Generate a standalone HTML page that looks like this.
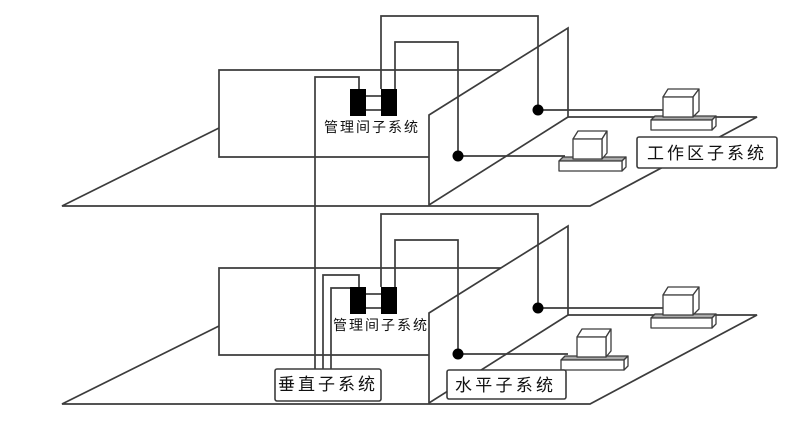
<!DOCTYPE html>
<html>
<head>
<meta charset="utf-8">
<style>
html,body{margin:0;padding:0;background:#fff;}
svg{display:block;}
text{font-family:"Liberation Sans","Noto Sans CJK SC","WenQuanYi Zen Hei",sans-serif;fill:#111;}
</style>
</head>
<body>
<svg width="786" height="422" viewBox="0 0 786 422" xmlns="http://www.w3.org/2000/svg">
<rect width="786" height="422" fill="#fff"/>
<g fill="none" stroke="#3c3c3c" stroke-width="1.7" stroke-linejoin="miter">
  <!-- ===== TOP FLOOR ===== -->
  <polyline points="219,128 62,206 590,206 757,117 568,117"/>
  <polyline points="501,70 219,70 219,157 429,157"/>
  <polygon points="429,115 568,28 568,117 429,205"/>
  <polyline points="381,89 381,16 538,16 538,110 663,110"/>
  <polyline points="395,89 395,42 458,42 458,156 565,156"/>
  <polyline points="359,89 359,77 315,77 315,370"/>
  <line x1="366" y1="96" x2="381" y2="96"/>
  <line x1="366" y1="110" x2="381" y2="110"/>

  <!-- ===== BOTTOM FLOOR ===== -->
  <polyline points="219,326 62,404 590,404 757,315 568,315"/>
  <polyline points="501,268 219,268 219,355 429,355"/>
  <polygon points="429,313 568,226 568,315 429,403"/>
  <polyline points="381,287 381,214 538,214 538,308 663,308"/>
  <polyline points="395,287 395,240 458,240 458,354 568,354"/>
  <polyline points="359,287 359,275 323,275 323,370"/>
  <polyline points="350,288 331,288 331,370"/>
  <line x1="366" y1="294" x2="381" y2="294"/>
  <line x1="366" y1="308" x2="381" y2="308"/>
</g>

<g fill="#000">
  <rect x="350" y="89" width="16" height="27"/>
  <rect x="381" y="89" width="16" height="27"/>
  <rect x="350" y="287" width="16" height="27"/>
  <rect x="381" y="287" width="16" height="27"/>
  <circle cx="538" cy="110" r="5.5"/>
  <circle cx="458" cy="156" r="5.5"/>
  <circle cx="538" cy="308" r="5.5"/>
  <circle cx="458" cy="354" r="5.5"/>
</g>

<!-- computers -->
<g stroke="#3c3c3c" stroke-width="1.3" stroke-linejoin="round">
  <!-- top floor, right computer -->
  <polygon points="651,120 655,116 716,116 712,120" fill="#aaa"/>
  <polygon points="712,120 716,116 716,126 712,130" fill="#fff"/>
  <rect x="651" y="120" width="61" height="10" fill="#fff"/>
  <polygon points="663,97 668,89 699,89 693,97" fill="#fff"/>
  <polygon points="693,97 699,89 699,111 693,117" fill="#fff"/>
  <rect x="663" y="97" width="30" height="20" fill="#fff"/>
  <!-- top floor, left computer -->
  <polygon points="559,161 563,157 626,157 622,161" fill="#aaa"/>
  <polygon points="622,161 626,157 626,167 622,171" fill="#fff"/>
  <rect x="559" y="161" width="63" height="10" fill="#fff"/>
  <polygon points="573,139 578,131 607,131 602,139" fill="#fff"/>
  <polygon points="602,139 607,131 607,153 602,159" fill="#fff"/>
  <rect x="573" y="139" width="29" height="20" fill="#fff"/>

  <!-- bottom floor, right computer -->
  <polygon points="651,318 655,314 716,314 712,318" fill="#aaa"/>
  <polygon points="712,318 716,314 716,324 712,328" fill="#fff"/>
  <rect x="651" y="318" width="61" height="10" fill="#fff"/>
  <polygon points="663,295 668,287 699,287 693,295" fill="#fff"/>
  <polygon points="693,295 699,287 699,309 693,315" fill="#fff"/>
  <rect x="663" y="295" width="30" height="20" fill="#fff"/>
  <!-- bottom floor, left computer -->
  <polygon points="561,360 565,356 628,356 624,360" fill="#aaa"/>
  <polygon points="624,360 628,356 628,366 624,370" fill="#fff"/>
  <rect x="561" y="360" width="63" height="10" fill="#fff"/>
  <polygon points="577,337 582,329 611,329 606,337" fill="#fff"/>
  <polygon points="606,337 611,329 611,351 606,357" fill="#fff"/>
  <rect x="577" y="337" width="29" height="20" fill="#fff"/>
</g>

<g fill="#fff" stroke="#3c3c3c" stroke-width="1.6">
  <rect x="637" y="137" width="140" height="31" rx="2"/>
  <rect x="275" y="369" width="106" height="32" rx="2"/>
  <rect x="447" y="370" width="119" height="29" rx="2"/>
</g>

<text x="324" y="132" font-size="14" textLength="94" lengthAdjust="spacing">管理间子系统</text>
<text x="333" y="330" font-size="14" textLength="94" lengthAdjust="spacing">管理间子系统</text>
<text x="647" y="159" font-size="17" textLength="117" lengthAdjust="spacing">工作区子系统</text>
<text x="278" y="390" font-size="17" textLength="97" lengthAdjust="spacing">垂直子系统</text>
<text x="455" y="391" font-size="17" textLength="98" lengthAdjust="spacing">水平子系统</text>
</svg>
</body>
</html>
